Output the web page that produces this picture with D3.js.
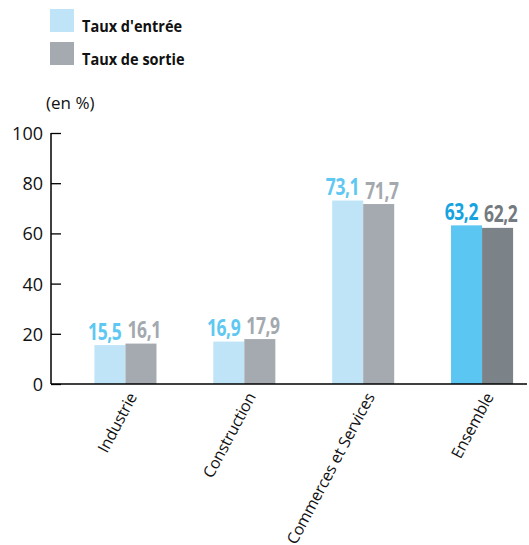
<!DOCTYPE html>
<html><head><meta charset="utf-8">
<script src="https://cdn.jsdelivr.net/npm/d3@7"></script>
<style>
body{margin:0;background:#fff}
svg{display:block}
</style></head>
<body>
<script>
const categories = ["Industrie", "Construction", "Commerces et Services", "Ensemble"];
const seriesNames = ["Taux d'entrée", "Taux de sortie"];
const entree = [15.5, 16.9, 73.1, 63.2];
const sortie = [16.1, 17.9, 71.7, 62.2];
const yTicks = [0, 20, 40, 60, 80, 100];
const unitLabel = "(en %)";

const W = 529, H = 545;
const svg = d3.select("body").append("svg").attr("width", W).attr("height", H);

const y = d3.scaleLinear().domain([0, 100]).range([384, 133]);
const x0 = d3.scaleBand().domain(categories).range([66, 541.5]).paddingInner(0.478).paddingOuter(0.239);
const x1 = d3.scaleBand().domain([0, 1]).range([0, x0.bandwidth()]);

const fillLight = ["#bfe4f8", "#a4aab0"];
const fillLast = ["#5bc6f1", "#7b8288"];
const labLight = ["#5ec8f2", "#a3a9af"];
const labLast = ["#16a3df", "#737a80"];

const sans = "'Open Sans', 'DejaVu Sans', sans-serif";
const condense = 0.76;

// legend
const legend = svg.append("g");
seriesNames.forEach((s, i) => {
  legend.append("rect").attr("x", 50).attr("y", 9 + i * 33).attr("width", 24).attr("height", 23)
    .attr("fill", fillLight[i]);
  legend.append("g").attr("transform", `translate(82,${32 + i * 33}) scale(0.88,1)`)
    .append("text").text(s)
    .attr("font-family", sans).attr("font-weight", "bold").attr("font-size", 16.5).attr("fill", "#111");
});

// unit label
svg.append("text").attr("x", 46).attr("y", 109).text(unitLabel)
  .attr("font-family", sans).attr("font-size", 17).attr("fill", "#111");

// y axis
const yAxis = svg.append("g").attr("transform", "translate(51,0)")
  .call(d3.axisRight(y).tickValues(yTicks).tickSize(10).tickFormat(d3.format("d")));
yAxis.select(".domain").remove();
yAxis.selectAll(".tick line").attr("stroke", "#000").attr("stroke-width", 1.3);
yAxis.selectAll(".tick text").attr("x", -8).attr("text-anchor", "end")
  .attr("font-family", sans).attr("font-size", 18).attr("fill", "#111").attr("dy", "0.36em");
svg.append("line").attr("x1", 51).attr("x2", 51).attr("y1", y(100)).attr("y2", y(0))
  .attr("stroke", "#000").attr("stroke-width", 1.5);

// bars
const groups = svg.selectAll("g.grp").data(categories).join("g").attr("class", "grp")
  .attr("transform", d => `translate(${x0(d)},0)`);
groups.each(function(c, ci) {
  const g = d3.select(this);
  const vals = [entree[ci], sortie[ci]];
  const last = ci === categories.length - 1;
  vals.forEach((v, si) => {
    g.append("rect").attr("x", x1(si)).attr("width", x1.bandwidth())
      .attr("y", y(v)).attr("height", y(0) - y(v))
      .attr("fill", last ? fillLast[si] : fillLight[si]);
    const cx = x0.bandwidth() / 2;
    g.append("g").attr("transform", `translate(${si === 0 ? cx - 4 : cx + 2},${y(v) - 5.5}) scale(${condense},1)`)
      .append("text").text(d3.format(".1f")(v).replace(".", ","))
      .attr("text-anchor", si === 0 ? "end" : "start")
      .attr("font-family", sans).attr("font-weight", "bold").attr("font-size", 23)
      .attr("letter-spacing", -0.5)
      .attr("fill", last ? labLast[si] : labLight[si]);
  });
});

// x axis line
svg.append("line").attr("x1", 51).attr("x2", 527).attr("y1", y(0)).attr("y2", y(0))
  .attr("stroke", "#000").attr("stroke-width", 1.5);

// category labels
svg.selectAll("text.cat").data(categories).join("text").attr("class", "cat")
  .attr("transform", d => `translate(${x0(d) + x0.bandwidth() / 2 + 7},${y(0) + 10}) rotate(-62)`)
  .attr("text-anchor", "end").attr("dy", "0.35em")
  .attr("font-family", sans).attr("font-size", 16).attr("fill", "#111")
  .attr("letter-spacing", -0.2)
  .text(d => d);
</script>
</body></html>
